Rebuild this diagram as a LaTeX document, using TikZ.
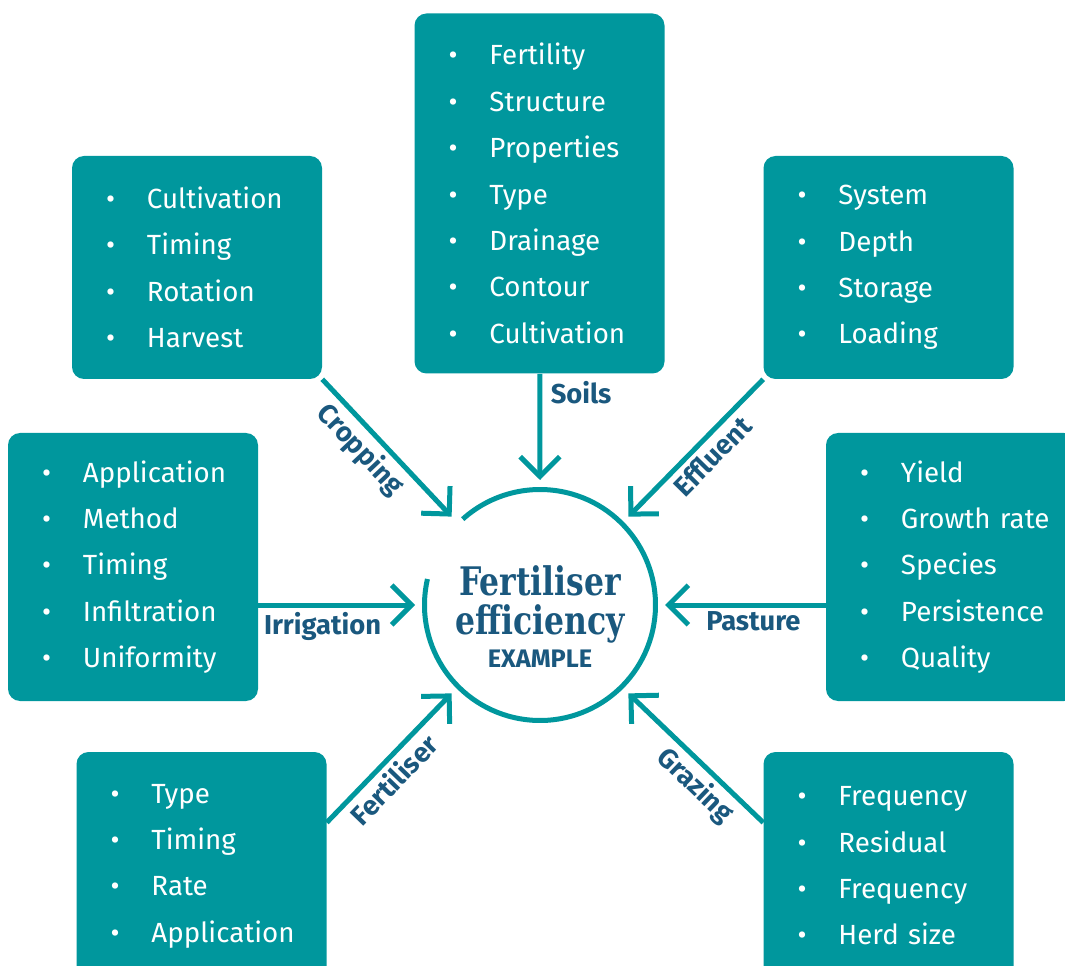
\documentclass[tikz,border=0pt]{standalone}
\usepackage{fontspec}
\setmainfont{Fira Sans}
\newfontfamily\titlefont{DejaVu Serif}[FakeStretch=0.8]
\usetikzlibrary{arrows.meta}

\definecolor{fertteal}{RGB}{0,151,157}
\definecolor{fertblue}{RGB}{26,88,126}

\newcommand{\bitem}[1]{\mbox{\makebox[30.75pt][l]{\textbullet}#1}}

\begin{document}
\begin{tikzpicture}[x=0.75pt, y=-0.75pt,
    box/.style = {fill=fertteal, rounded corners=9pt, text=white, minimum width=187.5pt,
      text width=136.5pt, inner xsep=25.5pt, align=left, font=\fontsize{20.8}{34.8}\selectfont},
    lbl/.style = {text=fertblue, font=\bfseries\fontsize{20.5}{22}\selectfont},
    ttl/.style = {text=fertblue, font=\titlefont\bfseries\fontsize{29.5}{30}\selectfont},
    arr/.style = {draw=fertteal, line width=3.75pt, -{Straight Barb[angle=90:21pt]}}]
  \useasboundingbox (0,0) rectangle (1065,966);

  % boxes
  \node[box, minimum height=167.25pt] (crop) at (197,267.5) {\bitem{Cultivation}\\\bitem{Timing}\\\bitem{Rotation}\\\bitem{Harvest}};
  \node[box, minimum height=270pt] (soils) at (539.5,193.5) {\bitem{Fertility}\\\bitem{Structure}\\\bitem{Properties}\\\bitem{Type}\\\bitem{Drainage}\\\bitem{Contour}\\\bitem{Cultivation}};
  \node[box, minimum height=167.25pt] (effl) at (888.5,267.5) {\bitem{System}\\\bitem{Depth}\\\bitem{Storage}\\\bitem{Loading}};
  \node[box, minimum height=201pt] (irrig) at (133,567) {\bitem{Application}\\\bitem{Method}\\\bitem{Timing}\\\bitem{Infiltration}\\\bitem{Uniformity}};
  \node[box, minimum height=201pt] (past) at (951,567) {\bitem{Yield}\\\bitem{Growth rate}\\\bitem{Species}\\\bitem{Persistence}\\\bitem{Quality}};
  \node[box, minimum height=171pt] (fert) at (201.5,866) {\bitem{Type}\\\bitem{Timing}\\\bitem{Rate}\\\bitem{Application}};
  \node[box, minimum height=171pt] (graz) at (888.5,866) {\bitem{Frequency}\\\bitem{Residual}\\\bitem{Frequency}\\\bitem{Herd size}};

  % centre
  \node[circle, minimum size=187.5pt, inner sep=0pt, outer sep=0pt] (hub) at (540,605) {};
  \draw[fertteal, line width=3.75pt] (hub.center) ++(-167:115.5) arc[start angle=-167, end angle=-492, radius=115.5];
  \node[ttl, anchor=base] (t1) at (540,595) {Fertiliser};
  \node[ttl, anchor=base] (t2) at (540,634) {efficiency};
  \node[lbl, anchor=base, font=\bfseries\fontsize{19}{20}\selectfont] (t3) at (540,667) {EXAMPLE};

  % arrows
  \draw[arr] (soils) -- node[lbl, pos=0.18, right, xshift=3pt] {Soils} (hub.north);
  \draw[arr] (crop.south east) -- node[lbl, sloped, below, pos=0.41] {Cropping} (hub.135);
  \draw[arr] (effl.south west) -- node[lbl, sloped, below, pos=0.47] {Effluent} (hub.45);
  \draw[arr] (irrig.east |- hub) -- node[lbl, below, pos=0.41] {Irrigation} (hub.west);
  \draw[arr] (past.west |- hub) -- node[lbl, below, pos=0.45] {Pasture} (hub.east);
  \draw[arr] ([yshift=32.6pt]fert.east) -- node[lbl, sloped, below, pos=0.43] {Fertiliser} (hub.225);
  \draw[arr] ([yshift=32.6pt]graz.west) -- node[lbl, sloped, below, pos=0.40] {Grazing} (hub.315);
\end{tikzpicture}
\end{document}
